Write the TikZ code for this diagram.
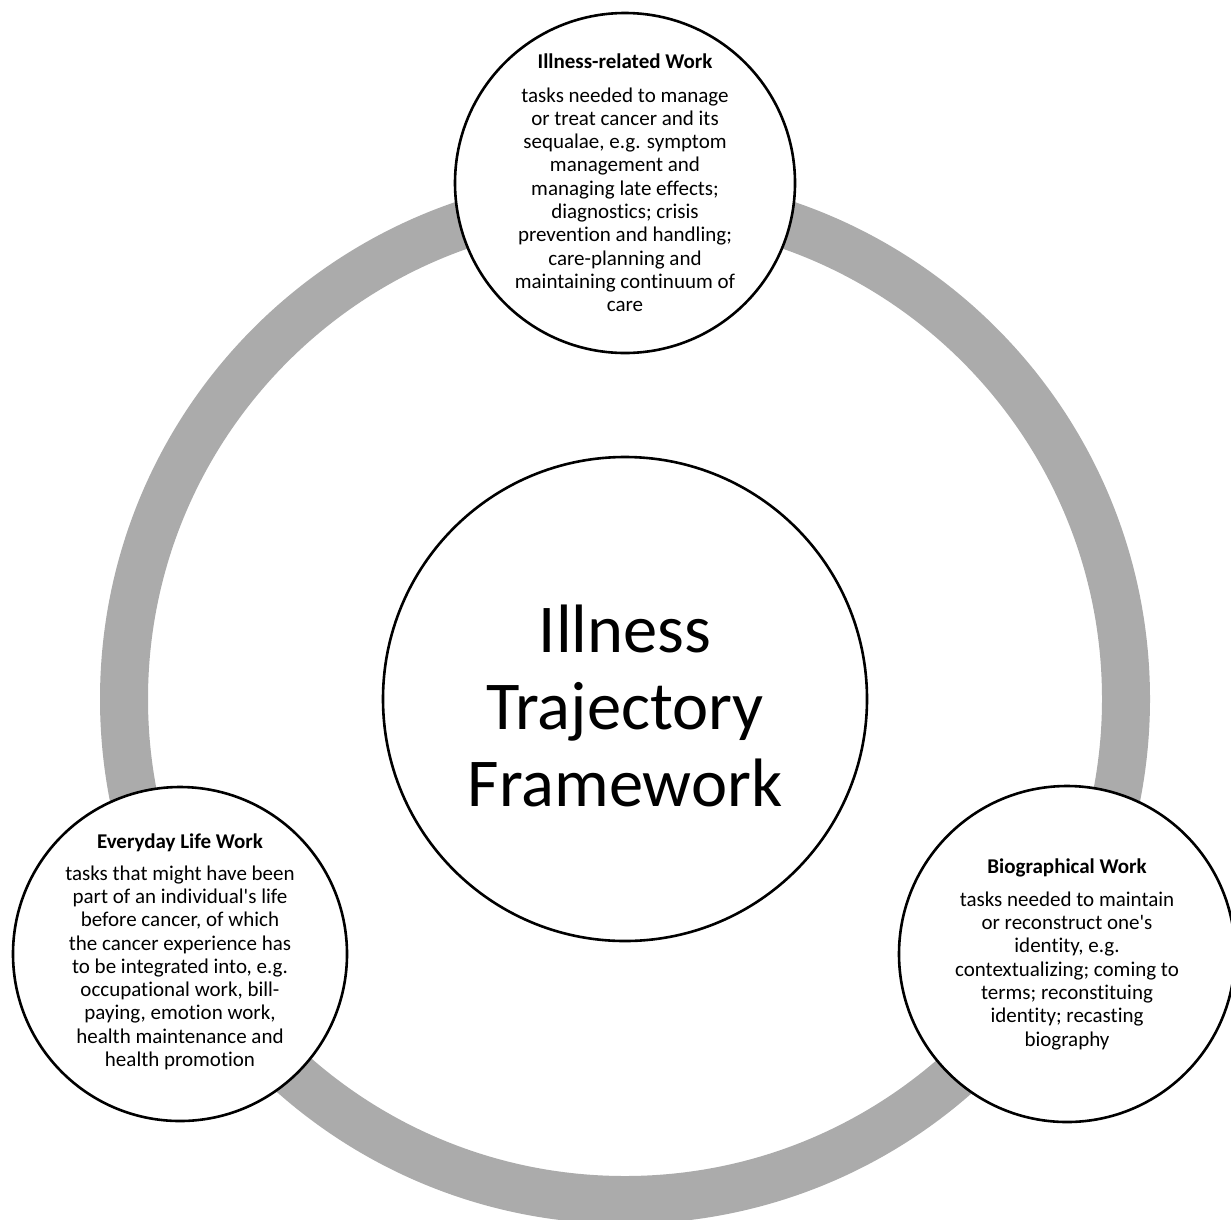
\documentclass[tikz,border=0pt]{standalone}
\usepackage{fontspec}
\setmainfont{Carlito}[Ligatures={NoCommon}]
\definecolor{ringgray}{RGB}{171,171,171}
\begin{document}
\begin{tikzpicture}[x=1pt,y=-1pt,
  bubble/.style={circle,draw=black,line width=2.6pt,fill=white,inner sep=0pt},
  bodytext/.style={align=center,font=\fontsize{21}{23.3}\selectfont,inner sep=0pt},
  bigtext/.style={align=center,font=\fontsize{68.5}{76.7}\selectfont,inner sep=0pt}]
\useasboundingbox (0,0) rectangle (1231,1219);
\coordinate (c) at (625,699);
\draw[ringgray,line width=48pt] (c) circle[radius=501];
\node[bubble,minimum size=484pt] (center) at (c) {};
\node[bigtext] (centertext) at ([yshift=-7]center.center) {Illness\\Trajectory\\Framework};
\node[bubble,minimum size=340pt] (top) at (625,183) {};
\node[bodytext] (toptext) at (top.center) {\textbf{Illness-related Work}\\[10pt]
tasks needed to manage\\or treat cancer and its\\sequalae, e.g. symptom\\management and\\managing late effects;\\diagnostics; crisis\\prevention and handling;\\care-planning and\\maintaining continuum of\\care};
\node[bubble,minimum size=334pt] (left) at (180,954) {};
\node[bodytext] (lefttext) at ([yshift=2]left.center) {\textbf{Everyday Life Work}\\[8pt]
tasks that might have been\\part of an individual\textquotesingle s life\\before cancer, of which\\the cancer experience has\\to be integrated into, e.g.\\occupational work, bill-\\paying, emotion work,\\health maintenance and\\health promotion};
\node[bubble,minimum size=336pt] (right) at (1067,954) {};
\node[bodytext] (righttext) at (right.center) {\textbf{Biographical Work}\\[10pt]
tasks needed to maintain\\or reconstruct one\textquotesingle s\\identity, e.g.\\contextualizing; coming to\\terms; reconstituing\\identity; recasting\\biography};
\end{tikzpicture}
\end{document}
